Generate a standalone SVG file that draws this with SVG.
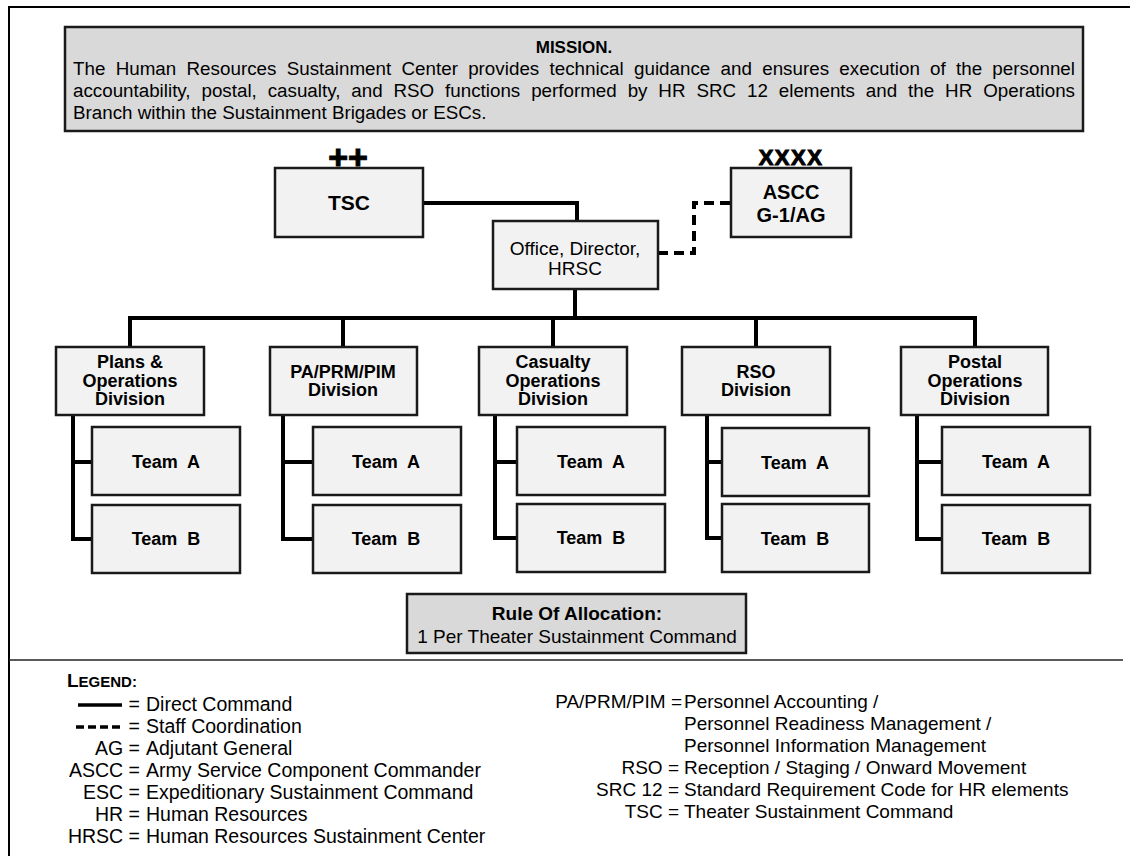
<svg xmlns="http://www.w3.org/2000/svg" width="1130" height="856" viewBox="0 0 1130 856">
<style>
.bx{fill:#f2f2f2;stroke:#1a1a1a;stroke-width:2.5}
.gb{fill:#d9d9d9;stroke:#1a1a1a;stroke-width:2.5}
.cn{fill:none;stroke:#000;stroke-width:4}
.ds{fill:none;stroke:#000;stroke-width:4;stroke-dasharray:10,6}
text{font-family:"Liberation Sans",Arial,sans-serif;fill:#000}
.b{font-weight:bold}
.dv{font-size:18px;font-weight:bold;text-anchor:middle}
.tm{font-size:18px;font-weight:bold;text-anchor:middle;white-space:pre}
.lg{font-size:19.5px}
.le{font-size:19.5px;text-anchor:end}
.rg{font-size:19px}
.re{font-size:19px;text-anchor:end}
.ms{font-size:18.8px}
</style>
<rect width="1130" height="856" fill="#fff"/>
<path d="M9 856 V7 H1130" fill="none" stroke="#000" stroke-width="2"/>
<g id="mission">
<rect class="gb" x="65" y="27" width="1018" height="104"/>
<text x="574" y="53" text-anchor="middle" class="b" font-size="17">MISSION.</text>
<text class="ms" x="73" y="75" word-spacing="5" textLength="1002" lengthAdjust="spacing">The Human Resources Sustainment Center provides technical guidance and ensures execution of the personnel</text>
<text class="ms" x="73" y="97" word-spacing="5.7" textLength="1002" lengthAdjust="spacing">accountability, postal, casualty, and RSO functions performed by HR SRC 12 elements and the HR Operations</text>
<text class="ms" x="73" y="119">Branch within the Sustainment Brigades or ESCs.</text>
</g>
<g id="connectors">
<path class="cn" d="M423 203 H577 V221"/>
<path class="ds" d="M658 253 H694 V203 H731"/>
<path class="cn" d="M575 289 V318"/>
<path class="cn" d="M130 347 V318 H975 V347"/>
<path class="cn" d="M343 318 V347 M553 318 V347 M756 318 V347"/>
<path class="cn" d="M73 415 V539 H92 M73 462 H92"/>
<path class="cn" d="M283 415 V539 H313 M283 462 H313"/>
<path class="cn" d="M495 415 V538 H517 M495 462 H517"/>
<path class="cn" d="M707 415 V538 H722 M707 462 H722"/>
<path class="cn" d="M917 415 V539 H942 M917 462 H942"/>
</g>
<g id="tsc">
<text x="348" y="169" text-anchor="middle" class="b" font-size="34" stroke="#000" stroke-width="1">++</text>
<rect class="bx" x="275" y="168" width="148" height="69"/>
<text x="349" y="210" text-anchor="middle" class="b" font-size="21">TSC</text>
</g>
<g id="ascc">
<text x="791" y="165" text-anchor="middle" class="b" font-size="22" letter-spacing="1.5" stroke="#000" stroke-width="1">XXXX</text>
<rect class="bx" x="731" y="168" width="120" height="69"/>
<text x="791" y="199" text-anchor="middle" class="b" font-size="20">ASCC</text>
<text x="791" y="222" text-anchor="middle" class="b" font-size="20">G-1/AG</text>
</g>
<g id="office">
<rect class="bx" x="493" y="221" width="165" height="68"/>
<text x="575" y="255" text-anchor="middle" font-size="19">Office, Director,</text>
<text x="575" y="275" text-anchor="middle" font-size="19">HRSC</text>
</g>
<g id="plans">
<rect class="bx" x="56" y="347" width="148" height="68"/>
<text class="dv" x="130" y="368">Plans &amp;</text>
<text class="dv" x="130" y="387">Operations</text>
<text class="dv" x="130" y="405">Division</text>
</g>
<g id="plans-a"><rect class="bx" x="92" y="427" width="148" height="68"/><text class="tm" x="166" y="468">Team  A</text></g>
<g id="plans-b"><rect class="bx" x="92" y="505" width="148" height="68"/><text class="tm" x="166" y="545">Team  B</text></g>
<g id="papim">
<rect class="bx" x="270" y="347" width="147" height="68"/>
<text class="dv" x="343" y="378">PA/PRM/PIM</text>
<text class="dv" x="343" y="396">Division</text>
</g>
<g id="papim-a"><rect class="bx" x="313" y="427" width="148" height="68"/><text class="tm" x="386" y="468">Team  A</text></g>
<g id="papim-b"><rect class="bx" x="313" y="505" width="148" height="68"/><text class="tm" x="386" y="545">Team  B</text></g>
<g id="casualty">
<rect class="bx" x="479" y="347" width="148" height="68"/>
<text class="dv" x="553" y="368">Casualty</text>
<text class="dv" x="553" y="387">Operations</text>
<text class="dv" x="553" y="405">Division</text>
</g>
<g id="casualty-a"><rect class="bx" x="517" y="427" width="148" height="68"/><text class="tm" x="591" y="468">Team  A</text></g>
<g id="casualty-b"><rect class="bx" x="517" y="504" width="148" height="68"/><text class="tm" x="591" y="544">Team  B</text></g>
<g id="rso">
<rect class="bx" x="682" y="347" width="148" height="68"/>
<text class="dv" x="756" y="378">RSO</text>
<text class="dv" x="756" y="396">Division</text>
</g>
<g id="rso-a"><rect class="bx" x="722" y="428" width="147" height="68"/><text class="tm" x="795" y="469">Team  A</text></g>
<g id="rso-b"><rect class="bx" x="722" y="504" width="147" height="68"/><text class="tm" x="795" y="545">Team  B</text></g>
<g id="postal">
<rect class="bx" x="901" y="347" width="147" height="68"/>
<text class="dv" x="975" y="368">Postal</text>
<text class="dv" x="975" y="387">Operations</text>
<text class="dv" x="975" y="405">Division</text>
</g>
<g id="postal-a"><rect class="bx" x="942" y="427" width="148" height="68"/><text class="tm" x="1016" y="468">Team  A</text></g>
<g id="postal-b"><rect class="bx" x="942" y="505" width="148" height="68"/><text class="tm" x="1016" y="545">Team  B</text></g>
<g id="rule">
<rect class="gb" x="407" y="594" width="339" height="59"/>
<text x="577" y="620" text-anchor="middle" class="b" font-size="19">Rule Of Allocation:</text>
<text x="577" y="643" text-anchor="middle" font-size="19">1 Per Theater Sustainment Command</text>
</g>
<g id="legend">
<line x1="9" y1="660" x2="1123" y2="660" stroke="#222" stroke-width="1.5"/>
<text x="67" y="687" class="b"><tspan font-size="19">L</tspan><tspan font-size="15">EGEND:</tspan></text>
<line x1="78" y1="705" x2="122" y2="705" stroke="#000" stroke-width="3.5"/>
<line x1="76" y1="727" x2="122" y2="727" stroke="#000" stroke-width="3.5" stroke-dasharray="8,4"/>
<text class="le" x="140" y="711">=</text><text class="lg" x="146" y="711">Direct Command</text>
<text class="le" x="140" y="733">=</text><text class="lg" x="146" y="733">Staff Coordination</text>
<text class="le" x="140" y="755">AG =</text><text class="lg" x="146" y="755">Adjutant General</text>
<text class="le" x="140" y="777">ASCC =</text><text class="lg" x="146" y="777">Army Service Component Commander</text>
<text class="le" x="140" y="799">ESC =</text><text class="lg" x="146" y="799">Expeditionary Sustainment Command</text>
<text class="le" x="140" y="821">HR =</text><text class="lg" x="146" y="821">Human Resources</text>
<text class="le" x="140" y="843">HRSC =</text><text class="lg" x="146" y="843">Human Resources Sustainment Center</text>
<text class="re" x="682" y="708">PA/PRM/PIM =</text><text class="rg" x="684" y="708">Personnel Accounting /</text>
<text class="rg" x="684" y="730">Personnel Readiness Management /</text>
<text class="rg" x="684" y="752">Personnel Information Management</text>
<text class="re" x="679" y="774">RSO =</text><text class="rg" x="684" y="774">Reception / Staging / Onward Movement</text>
<text class="re" x="679" y="796">SRC 12 =</text><text class="rg" x="684" y="796">Standard Requirement Code for HR elements</text>
<text class="re" x="679" y="818">TSC =</text><text class="rg" x="684" y="818">Theater Sustainment Command</text>
</g>
</svg>
